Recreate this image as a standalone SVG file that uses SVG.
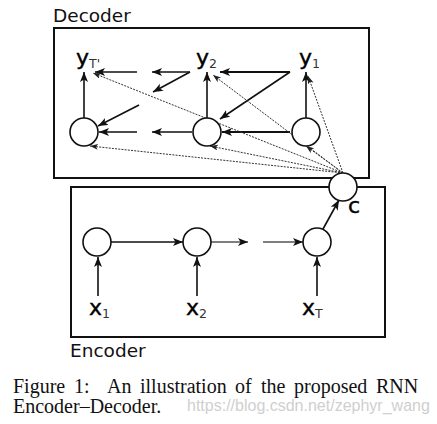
<svg xmlns="http://www.w3.org/2000/svg" width="437" height="424" viewBox="0 0 437 424">
<style>
.box{fill:none;stroke:#111;stroke-width:2}
.node{fill:#fff;stroke:#111;stroke-width:1.6}
.a{stroke:#111;stroke-width:1.6;fill:none;marker-end:url(#ah)}
.ab{stroke:#111;stroke-width:2.2;fill:none;marker-end:url(#ah)}
.ag{stroke:#555;stroke-width:1.4;fill:none;marker-end:url(#ah)}
.d{stroke:#333;stroke-width:1;stroke-dasharray:2 1.2;fill:none;marker-end:url(#ahs)}
.lab{font-family:"DejaVu Sans",sans-serif;font-size:22px;fill:#000;stroke:#000;stroke-width:0.4}
.sub{font-family:"DejaVu Sans",sans-serif;font-size:12.5px;fill:#333;stroke:none}
.title{font-family:"DejaVu Sans",sans-serif;font-size:18.5px;fill:#111}
.cap{font-family:"Liberation Serif",serif;font-size:20px;fill:#111}
.wm{font-family:"Liberation Sans",sans-serif;font-size:16px;fill:#cfcfcf}
</style>
<defs>
<marker id="ah" markerUnits="userSpaceOnUse" markerWidth="12" markerHeight="10" refX="10" refY="4" orient="auto">
<path d="M0,0 L10,4 L0,8 L2.5,4 z" fill="#111"/>
</marker>
<marker id="ahs" markerUnits="userSpaceOnUse" markerWidth="10" markerHeight="8" refX="8" refY="3" orient="auto">
<path d="M0,0 L8,3 L0,6 L2,3 z" fill="#222"/>
</marker>
</defs>
<rect width="437" height="424" fill="#fff"/>
<g id="decoder-box">
<rect class="box" x="54" y="28" width="315" height="150"/>
<text class="title" x="53" y="22">Decoder</text>
</g>
<g id="encoder-box">
<rect class="box" x="71" y="187" width="314" height="150"/>
<text class="title" x="70" y="357">Encoder</text>
</g>
<g id="connectors">
<line class="a" x1="84" y1="118" x2="84" y2="72"/>
<line class="a" x1="207" y1="118" x2="207" y2="72"/>
<line class="a" x1="306" y1="118" x2="306" y2="72"/>
<line class="ab" x1="290" y1="72" x2="220" y2="72"/>
<line class="a" x1="290" y1="72" x2="220" y2="119"/>
<line class="ab" x1="290" y1="132" x2="222" y2="132"/>
<line class="a" x1="190" y1="72" x2="152" y2="72"/>
<line class="a" x1="137" y1="72" x2="95" y2="72"/>
<line class="a" x1="190" y1="72" x2="153" y2="92"/>
<line class="a" x1="139" y1="105" x2="98" y2="126"/>
<line class="a" x1="192" y1="132" x2="152" y2="132"/>
<line class="a" x1="137" y1="132" x2="99" y2="132"/>
<line class="d" x1="343" y1="173" x2="93" y2="73"/>
<line class="d" x1="343" y1="173" x2="90" y2="146"/>
<line class="d" x1="343" y1="173" x2="213" y2="75"/>
<line class="d" x1="343" y1="173" x2="210" y2="146"/>
<line class="d" x1="343" y1="173" x2="308" y2="76"/>
<line class="d" x1="343" y1="173" x2="306" y2="146"/>
<line class="a" x1="111" y1="242" x2="183" y2="242"/>
<line class="ag" x1="211" y1="242" x2="248" y2="242"/>
<line class="ag" x1="263" y1="242" x2="303" y2="242"/>
<line class="a" x1="323" y1="229" x2="339" y2="200"/>
<line class="a" x1="98" y1="296" x2="98" y2="257"/>
<line class="a" x1="197" y1="296" x2="197" y2="257"/>
<line class="a" x1="317" y1="296" x2="317" y2="257"/>
</g>
<g id="s-dec-T"><circle class="node" cx="84" cy="132" r="14"/></g>
<g id="s-dec-2"><circle class="node" cx="207" cy="132" r="14"/></g>
<g id="s-dec-1"><circle class="node" cx="306" cy="132" r="14"/></g>
<g id="c"><circle class="node" cx="343" cy="187" r="14"/><text class="lab" x="348" y="213">c</text></g>
<g id="h-1"><circle class="node" cx="97" cy="242" r="14"/></g>
<g id="h-2"><circle class="node" cx="197" cy="242" r="14"/></g>
<g id="h-T"><circle class="node" cx="317" cy="242" r="14"/></g>
<g id="y-T"><text class="lab" x="76" y="65">y<tspan class="sub" dy="3">T'</tspan></text></g>
<g id="y-2"><text class="lab" x="196" y="65">y<tspan class="sub" dy="3">2</tspan></text></g>
<g id="y-1"><text class="lab" x="299" y="65">y<tspan class="sub" dy="3">1</tspan></text></g>
<g id="x-1"><text class="lab" x="89" y="315">x<tspan class="sub" dy="3">1</tspan></text></g>
<g id="x-2"><text class="lab" x="186" y="315">x<tspan class="sub" dy="3">2</tspan></text></g>
<g id="x-T"><text class="lab" x="302" y="315">x<tspan class="sub" dy="3">T</tspan></text></g>
<g id="caption">
<text class="cap" y="393"><tspan x="13">Figure</tspan><tspan x="74">1:</tspan><tspan x="107">An</tspan><tspan x="140">illustration</tspan><tspan x="235">of</tspan><tspan x="261">the</tspan><tspan x="294">proposed</tspan><tspan x="376">RNN</tspan></text>
<text class="cap" x="13" y="413">Encoder–Decoder.</text>
<text class="wm" x="187" y="411">https://blog.csdn.net/zephyr_wang</text>
</g>
</svg>
